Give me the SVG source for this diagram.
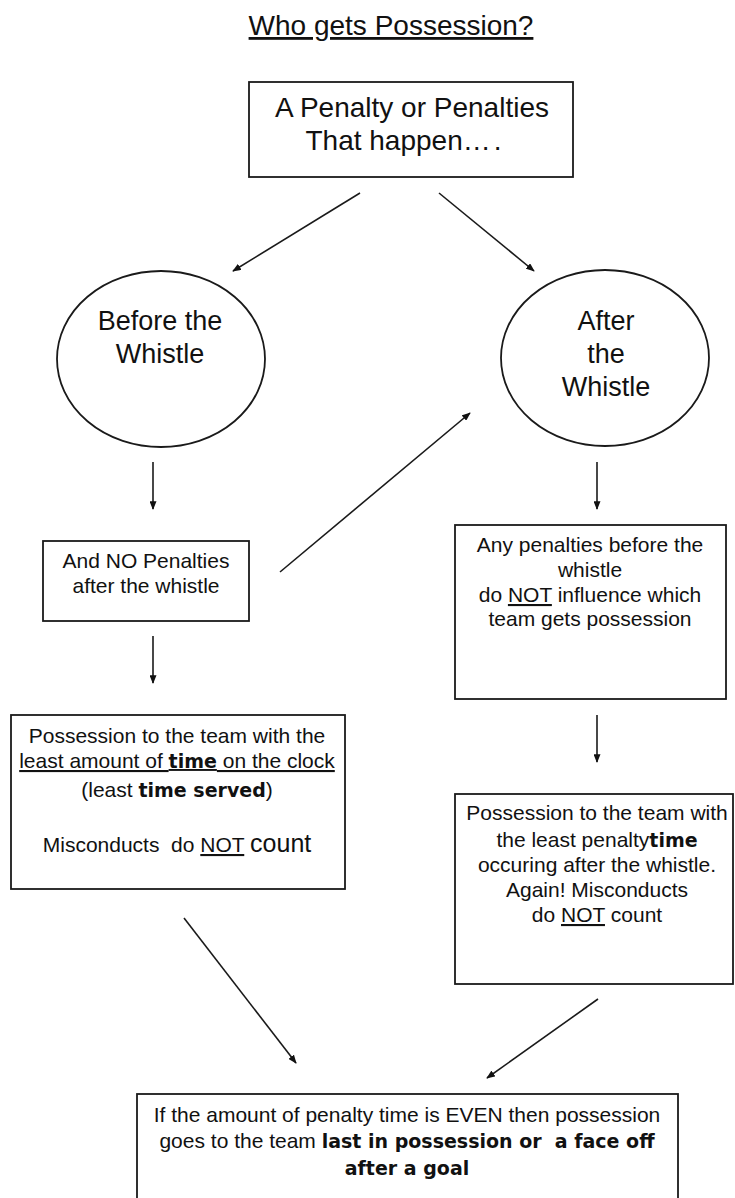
<svg xmlns="http://www.w3.org/2000/svg" width="735" height="1198" viewBox="0 0 735 1198">
<defs>
<style>
.t{font-family:"Liberation Sans",Arial,sans-serif;font-size:21px;fill:#111;text-anchor:middle}
.big{font-size:27px}
.b{font-family:"DejaVu Sans",sans-serif;font-weight:bold;font-size:19px}
.u{text-decoration:underline}
.box{fill:#fff;stroke:#1a1a1a;stroke-width:1.8}
.c{stroke:#1a1a1a;stroke-width:1.6;fill:none}
.pre{white-space:pre}
</style>
<marker id="ah" viewBox="0 0 10 8" refX="9" refY="4" markerWidth="9" markerHeight="7" markerUnits="userSpaceOnUse" orient="auto">
<path d="M0,0 L10,4 L0,8 z" fill="#111"/>
</marker>
</defs>
<rect width="735" height="1198" fill="#fff"/>
<text class="t u" x="391" y="35" style="font-size:28px">Who gets Possession?</text>

<g id="start">
<rect class="box" x="249" y="82" width="324" height="95"/>
<text class="t" x="412" y="117" style="font-size:28px">A Penalty or Penalties</text>
<text class="t" x="405" y="150" style="font-size:28px">That happen<tspan letter-spacing="3">….</tspan></text>
</g>

<g id="before">
<ellipse class="box" cx="161" cy="359" rx="104" ry="88"/>
<text class="t big" x="160" y="330">Before the</text>
<text class="t big" x="160" y="363">Whistle</text>
</g>

<g id="after">
<ellipse class="box" cx="605" cy="358" rx="104" ry="88"/>
<text class="t big" x="606" y="330">After</text>
<text class="t big" x="606" y="363">the</text>
<text class="t big" x="606" y="396">Whistle</text>
</g>

<g id="nopen">
<rect class="box" x="43" y="541" width="206" height="80"/>
<text class="t" x="146" y="568">And NO Penalties</text>
<text class="t" x="146" y="593">after the whistle</text>
</g>

<g id="anypen">
<rect class="box" x="455" y="525" width="271" height="174"/>
<text class="t" x="590" y="552">Any penalties before the</text>
<text class="t" x="590" y="577">whistle</text>
<text class="t" x="590" y="602">do <tspan class="u">NOT</tspan> influence which</text>
<text class="t" x="590" y="626">team gets possession</text>
</g>

<g id="leastclock">
<rect class="box" x="11" y="715" width="334" height="174"/>
<text class="t" x="177" y="743">Possession to the team with the</text>
<text class="t u pre" x="177" y="768">least amount of <tspan class="b">time</tspan> on the clock</text>
<text class="t pre" x="177" y="797">(least <tspan class="b">time served</tspan>)</text>
<text class="t pre" x="177" y="852">Misconducts  do <tspan class="u">NOT</tspan> <tspan style="font-size:25px">count</tspan></text>
</g>

<g id="leastafter">
<rect class="box" x="455" y="794" width="278" height="190"/>
<text class="t" x="597" y="820">Possession to the team with</text>
<text class="t" x="597" y="847">the least penalty<tspan class="b">time</tspan></text>
<text class="t" x="597" y="872">occuring after the whistle.</text>
<text class="t" x="597" y="897">Again! Misconducts</text>
<text class="t" x="597" y="922">do <tspan class="u">NOT</tspan> count</text>
</g>

<g id="even">
<rect class="box" x="137" y="1094" width="541" height="120"/>
<text class="t" x="407" y="1122">If the amount of penalty time is EVEN then possession</text>
<text class="t pre" x="407" y="1148">goes to the team <tspan class="b">last in possession or  a face off</tspan></text>
<text class="t" x="407" y="1175"><tspan class="b">after a goal</tspan></text>
</g>

<g id="connectors">
<line class="c" x1="360" y1="193" x2="233" y2="271" marker-end="url(#ah)"/>
<line class="c" x1="439" y1="193" x2="534" y2="271" marker-end="url(#ah)"/>
<line class="c" x1="153" y1="462" x2="153" y2="509" marker-end="url(#ah)"/>
<line class="c" x1="597" y1="462" x2="597" y2="509" marker-end="url(#ah)"/>
<line class="c" x1="280" y1="572" x2="470" y2="413" stroke-width="1.3" marker-end="url(#ah)"/>
<line class="c" x1="153" y1="636" x2="153" y2="683" marker-end="url(#ah)"/>
<line class="c" x1="597" y1="715" x2="597" y2="762" marker-end="url(#ah)"/>
<line class="c" x1="184" y1="918" x2="296" y2="1063" marker-end="url(#ah)"/>
<line class="c" x1="598" y1="999" x2="487" y2="1078" marker-end="url(#ah)"/>
</g>
</svg>
